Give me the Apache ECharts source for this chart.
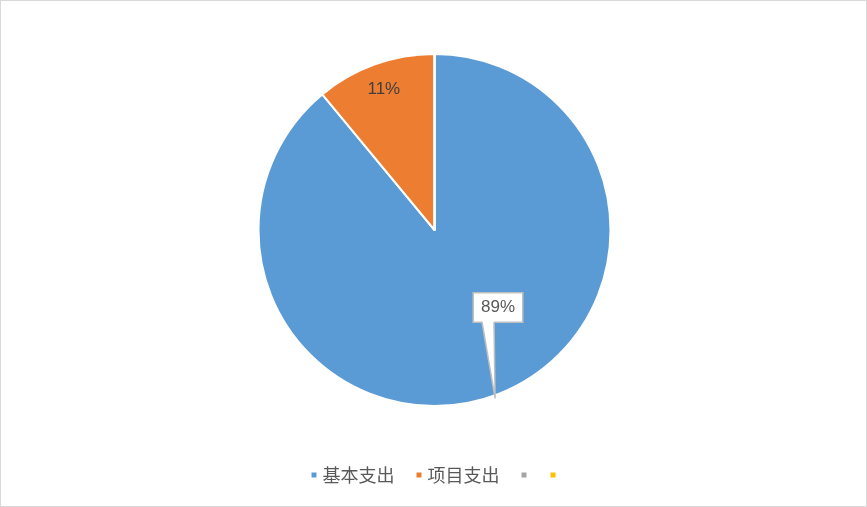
<!DOCTYPE html>
<html lang="zh">
  <head>
    <meta charset="UTF-8" />
    <title>支出构成</title>
    <script src="https://cdn.jsdelivr.net/npm/echarts@6/dist/echarts.min.js"></script>
    <style>
      html, body { margin: 0; padding: 0; background: #fff; }
      #chart { width: 867px; height: 507px; box-sizing: border-box; border: 1px solid #d9d9d9; }
    </style>
  </head>
  <body>
    <div id="chart"></div>

    <script>
      // 数据
      var names = ["基本支出", "项目支出", "系列3", "系列4"]
      var values = [89, 11, 0, 0]
      var colors = ["#5B9BD5", "#ED7D31", "#A5A5A5", "#FFC000"]
      var emptyNames = ["系列3", "系列4"] // 图例里不显示文字

      var cx = 433.5, cy = 229, R = 176
      var total = values.reduce(function (a, b) { return a + b }, 0)

      // 扇区中间角度(从正上方顺时针)
      function midAngle(i) {
        var before = 0
        for (var k = 0; k < i; k++) before += values[k]
        return ((before + values[i] / 2) / total) * Math.PI * 2
      }

      var mCharts = echarts.init(document.getElementById("chart"))

      var pieData = names.map(function (n, i) {
        var item = { name: n, value: values[i] }
        if (values[i] === 0) {
          item.label = { show: false }
        }
        return item
      })

      // 基本支出:带标注框
      pieData[0].label = {
        backgroundColor: "#fff",
        borderColor: "#bfbfbf",
        borderWidth: 1.5,
        padding: [6, 7, 5, 7],
        color: "#595959",
      }

      // 标注框位置(相对圆心)
      var lx = cx + 63.5, ly = cy + 77.5

      // 标注框的尖角,指向扇区边缘
      var a0 = midAngle(0)
      var tip = [cx + (R + 3) * Math.sin(a0), cy - (R + 3) * Math.cos(a0)]
      var wl = [lx - 16, ly + 13.5], wr = [lx - 4, ly + 13.5]

      var option = {
        color: colors,
        animation: false,
        legend: {
          bottom: 17,
          left: "center",
          icon: "rect",
          itemWidth: 7,
          itemHeight: 7,
          itemGap: 20,
          textStyle: { color: "#595959", fontSize: 18, fontFamily: "Noto Sans CJK SC" },
          formatter: function (name) {
            return emptyNames.indexOf(name) >= 0 ? "" : name
          },
          data: names,
        },
        graphic: [
          {
            type: "polygon",
            z: 100,
            shape: { points: [wl, wr, tip] },
            style: { fill: "#fff", stroke: null },
          },
          {
            type: "polyline",
            z: 101,
            shape: { points: [[wl[0], wl[1] + 1], tip, [wr[0], wr[1] + 1]] },
            style: { fill: null, stroke: "#bfbfbf", lineWidth: 1.5 },
          },
        ],
        series: [
          {
            type: "pie",
            center: [cx, cy],
            radius: R,
            startAngle: 90,
            clockwise: true,
            itemStyle: { borderColor: "#fff", borderWidth: 2 },
            label: {
              show: true,
              position: "inside",
              formatter: function (p) {
                return Math.round(p.percent) + "%"
              },
              color: "#404040",
              fontSize: 17,
              fontFamily: "Liberation Sans",
            },
            labelLine: { show: false },
            labelLayout: function (p) {
              if (p.dataIndex === 0) {
                return { x: lx, y: ly, align: "center", verticalAlign: "middle" }
              }
              if (p.dataIndex === 1) {
                var b = midAngle(1)
                return {
                  x: cx + 0.85 * R * Math.sin(b),
                  y: cy - 0.85 * R * Math.cos(b),
                  align: "center",
                  verticalAlign: "middle",
                }
              }
            },
            data: pieData,
          },
        ],
      }

      mCharts.setOption(option)
    </script>
  </body>
</html>
